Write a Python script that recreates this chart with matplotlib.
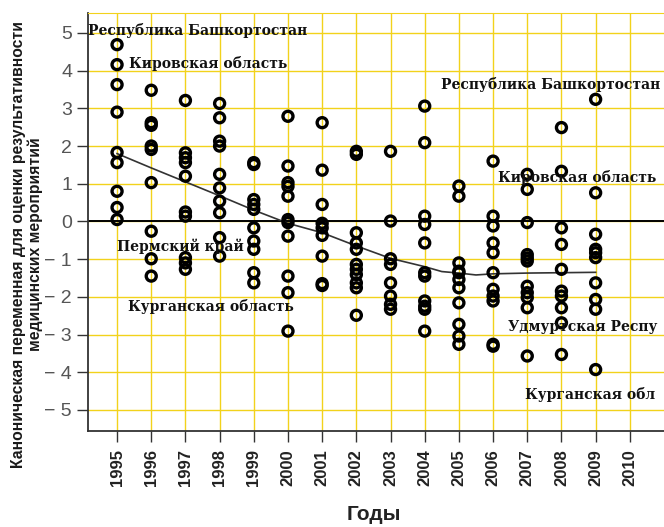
import matplotlib.pyplot as plt

# значения канонической переменной по годам
years = list(range(1995, 2010))
v1995 = [4.69, 4.16, 3.63, 2.9, 1.83, 1.56, 0.8, 0.37, 0.05]
v1996 = [3.48, 2.62, 2.55, 2.0, 1.91, 1.03, -0.26, -0.99, -1.45]
v1997 = [3.21, 1.82, 1.69, 1.56, 1.2, 0.25, 0.14, -0.96, -1.1, -1.27]
v1998 = [3.13, 2.75, 2.13, 2.0, 1.25, 0.89, 0.54, 0.23, -0.43, -0.92]
v1999 = [1.56, 1.51, 0.58, 0.45, 0.32, -0.17, -0.52, -0.74, -1.36, -1.63]
v2000 = [2.79, 1.47, 1.03, 0.93, 0.67, 0.05, -0.03, -0.39, -1.45, -1.89, -2.91]
v2001 = [2.62, 1.36, 0.45, -0.05, -0.17, -0.37, -0.92, -1.65, -1.7]
v2002 = [1.86, 1.78, -0.3, -0.57, -0.74, -1.14, -1.27, -1.41, -1.63, -1.76, -2.49]
v2003 = [1.86, 0.01, -0.99, -1.14, -1.63, -1.98, -2.2, -2.33]
v2004 = [3.06, 2.09, 0.14, -0.08, -0.57, -1.36, -1.45, -2.11, -2.25, -2.33, -2.91]
v2005 = [0.94, 0.67, -1.1, -1.32, -1.36, -1.54, -1.76, -2.16, -2.73, -3.04, -3.26]
v2006 = [1.6, 0.14, -0.12, -0.57, -0.83, -1.36, -1.8, -1.98, -2.11, -3.26, -3.31]
v2007 = [1.25, 0.85, -0.03, -0.88, -0.97, -1.05, -1.72, -1.89, -2.02, -2.29, -3.57]
v2008 = [2.49, 1.33, -0.17, -0.61, -1.27, -1.85, -1.98, -2.29, -2.69, -3.53]
v2009 = [3.24, 0.76, -0.34, -0.74, -0.83, -0.96, -1.63, -2.07, -2.33, -3.93]
columns = [v1995, v1996, v1997, v1998, v1999, v2000, v2001, v2002,
           v2003, v2004, v2005, v2006, v2007, v2008, v2009]

# сглаженная линия тренда
trend_years = [1995, 1996, 1997, 1998, 1999, 2000, 2001, 2002, 2003,
               2004, 2004.5, 2005, 2005.5, 2006, 2007, 2008, 2009]
trend_values = [1.8, 1.42, 1.05, 0.68, 0.3, -0.05, -0.3, -0.65, -0.98,
                -1.2, -1.33, -1.37, -1.42, -1.39, -1.37, -1.36, -1.35]

# подписи выделяющихся регионов (справа обрезаны, как на исходном рисунке)
label_texts = ['Республика Башкортостан', 'Кировская область', 'Пермский край',
               'Курганская область', 'Республика Башкортостан', 'Кировская область',
               'Удмуртская Респу', 'Курганская обл']
label_x = [1994.16, 1995.35, 1995.0, 1995.32, 2004.47, 2006.14, 2006.43, 2006.93]
label_y = [5.07, 4.19, -0.66, -2.25, 3.63, 1.17, -2.81, -4.59]

xs, ys = [], []
for yr, vals in zip(years, columns):
    xs += [yr] * len(vals)
    ys += vals

fig = plt.figure(figsize=(6.64, 5.27), dpi=100)
ax = fig.add_axes([88 / 664, 1 - 431 / 527, 1 - 88 / 664, 418 / 527])

grid_c = '#f2d21b'
ax.set_xlim(1994.15, 2011.0)
ax.set_ylim(-5.56, 5.53)
ax.set_xticks(range(1995, 2011))
ax.set_yticks(range(-5, 6))
ax.grid(True, color=grid_c, lw=1.0, zorder=0)
ax.set_axisbelow(True)

ax.axhline(0, color='black', lw=1.4, zorder=1)
ax.plot(trend_years, trend_values, color='#333333', lw=1.2, zorder=2)
ax.scatter(xs, ys, s=52, facecolors='none', edgecolors='black',
           linewidths=2.4, zorder=3)

for t, x, y in zip(label_texts, label_x, label_y):
    ax.text(x, y, t, fontsize=10, fontweight='bold', family='DejaVu Serif',
            color='#111111', ha='left', va='center', zorder=4)

ax.spines['top'].set_color(grid_c)
ax.spines['right'].set_visible(False)
ax.spines['left'].set_color('#333333')
ax.spines['bottom'].set_color('#333333')
ax.spines['left'].set_linewidth(1.3)
ax.spines['bottom'].set_linewidth(1.3)

ax.tick_params(axis='both', direction='out', length=8, width=1, color='#333333')
ax.tick_params(axis='x', pad=5)
ax.set_yticklabels([str(v).replace('-', '\u2212 ') for v in range(-5, 6)],
                   fontsize=14, color='#555555', family='Liberation Sans')
ax.set_xticklabels([str(y) for y in range(1995, 2011)], rotation=90,
                   fontsize=12, fontweight='bold', color='#222222',
                   family='Liberation Sans')

fig.text(374 / 664, 1 - 515 / 527, 'Годы', fontsize=15, fontweight='bold',
         color='#222222', family='Liberation Sans', ha='center', va='center')
fig.text(27 / 664, 1 - 244 / 527,
         'Каноническая переменная для оценки результативности\nмедицинских мероприятий',
         rotation=90, fontsize=11.3, fontweight='bold', color='#1a1a1a',
         family='Liberation Sans', ha='center', va='center', multialignment='center',
         linespacing=1.1)

fig.savefig('out.png', dpi=100)
